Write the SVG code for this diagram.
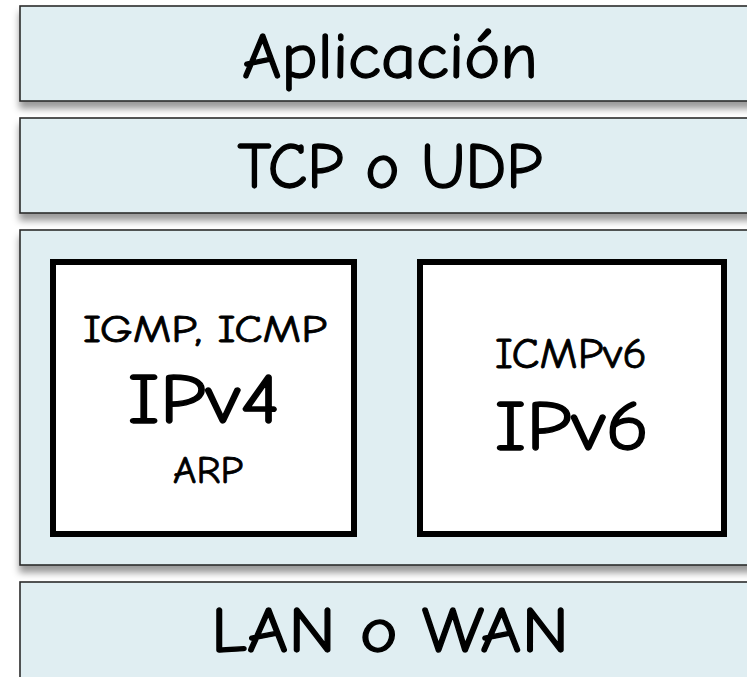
<svg xmlns="http://www.w3.org/2000/svg" width="747" height="677" viewBox="0 0 747 677">
<defs>
<filter id="sh" x="-5%" y="-10%" width="110%" height="130%">
<feDropShadow dx="0" dy="7" stdDeviation="3.5" flood-color="#000" flood-opacity="0.4"/>
</filter>
</defs>
<style>
.layer{fill:#e0eef2;stroke:#2b2b2b;stroke-width:1.6}
.box{fill:#fff;stroke:#000;stroke-width:6}
text{font-family:"Comic Sans MS","Comic Neue","DejaVu Sans",sans-serif;fill:#000;stroke:#000;stroke-width:1.3;stroke-linejoin:round;text-anchor:middle}
.big{font-size:64px}
.huge{font-size:70px}
.small{font-size:38px;stroke-width:0.8}
</style>
<rect width="747" height="677" fill="#fff"/>
<g id="aplicacion">
<rect class="layer" x="20" y="6" width="745" height="95" filter="url(#sh)"/>
<text class="big" x="390" y="78" textLength="296" lengthAdjust="spacingAndGlyphs">Aplicación</text>
</g>
<g id="transporte">
<rect class="layer" x="20" y="118" width="745" height="95" filter="url(#sh)"/>
<text class="big" x="390" y="188" textLength="305" lengthAdjust="spacingAndGlyphs">TCP o UDP</text>
</g>
<g id="red">
<rect class="layer" x="20" y="230" width="745" height="335" filter="url(#sh)"/>
</g>
<g id="ipv4">
<rect class="box" x="53" y="262" width="301" height="272"/>
<text class="small" x="205" y="342" textLength="244" lengthAdjust="spacingAndGlyphs">IGMP, ICMP</text>
<text class="huge" x="204" y="423" textLength="153" lengthAdjust="spacingAndGlyphs">IPv4</text>
<text class="small" x="208" y="483" textLength="70" lengthAdjust="spacingAndGlyphs">ARP</text>
</g>
<g id="ipv6">
<rect class="box" x="420" y="262" width="304" height="272"/>
<text class="small" x="571" y="368" style="font-size:42px" textLength="152" lengthAdjust="spacingAndGlyphs">ICMPv6</text>
<text class="huge" x="572" y="450" textLength="155" lengthAdjust="spacingAndGlyphs">IPv6</text>
</g>
<g id="enlace">
<rect class="layer" x="20" y="582" width="745" height="120"/>
<text class="big" x="390" y="652" textLength="358" lengthAdjust="spacingAndGlyphs">LAN o WAN</text>
</g>
<g id="connectors"/>
</svg>
